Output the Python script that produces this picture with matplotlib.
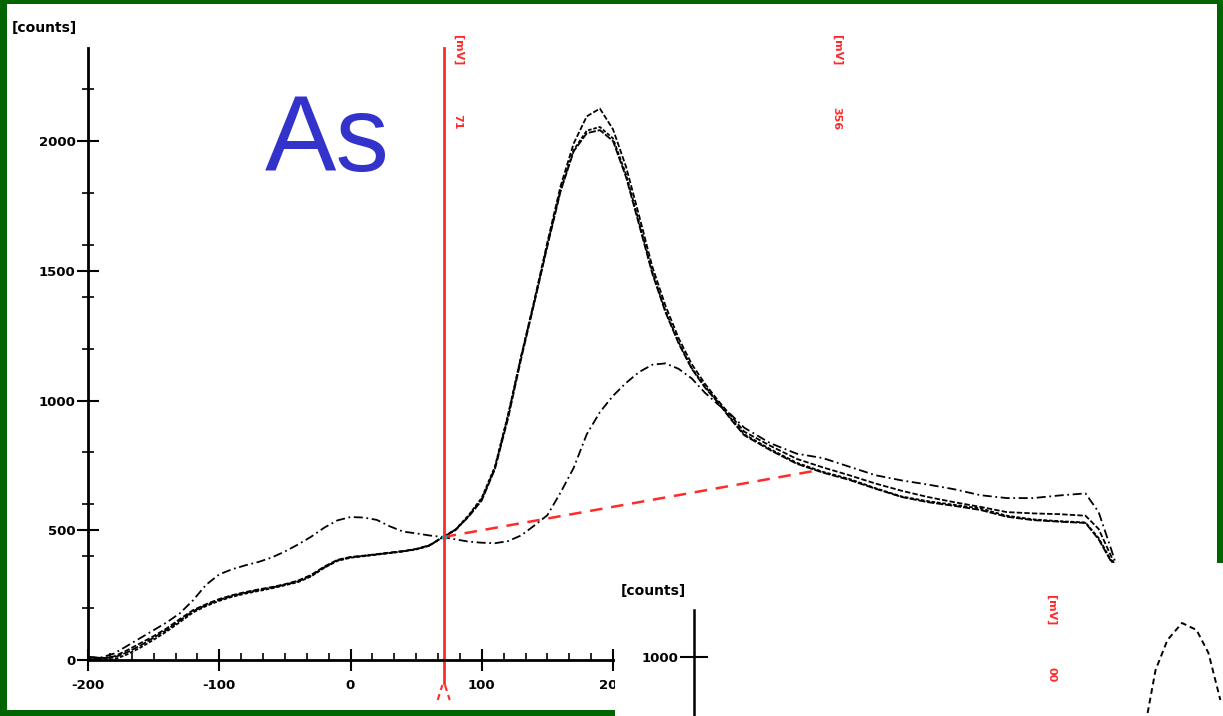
import matplotlib
matplotlib.use('Agg')
import matplotlib.pyplot as plt
from matplotlib.patches import Rectangle
from matplotlib.ticker import MultipleLocator, AutoMinorLocator
from matplotlib.transforms import blended_transform_factory

# picture size in pixels
W, H = 1223, 716
PX_PER_MV = 1.3125


def fx(px):
    return px / W


def fy(py):
    return 1 - py / H


# potential axis [mV]
potential_mv = [-200, -190, -180, -170, -160, -150, -140, -130, -120, -110,
                -100, -90, -80, -70, -60, -50, -40, -30, -20, -10,
                0, 10, 20, 30, 40, 50, 60, 70, 80, 90,
                100, 110, 120, 130, 140, 150, 160, 170, 180, 190,
                200, 210, 220, 230, 240, 250, 260, 270, 280, 290, 300,
                320, 340, 360, 380, 400, 420, 440, 460, 480, 500,
                520, 540, 560, 570, 580, 590, 600]

# scan with the low, late peak
scan_a = [10, 10, 25, 55, 85, 115, 145, 180, 230, 290,
          330, 350, 365, 378, 395, 418, 445, 475, 510, 538,
          551, 549, 540, 515, 495, 488, 480, 474, 465, 456,
          452, 450, 458, 480, 518, 558, 645, 740, 870, 955,
          1018, 1068, 1110, 1138, 1143, 1122, 1085, 1030, 985, 945, 895,
          835, 795, 778, 745, 712, 692, 676, 658, 635, 624,
          624, 634, 642, 570, 420, 260, 110]

# three scans with the big peak
scan_b = [10, 6, 14, 38, 65, 92, 122, 158, 192, 215,
          235, 250, 262, 272, 281, 292, 306, 328, 360, 386,
          397, 402, 408, 414, 420, 428, 442, 472, 500, 555,
          620, 740, 940, 1170, 1385, 1610, 1825, 1990, 2095, 2125,
          2045, 1900, 1710, 1515, 1365, 1240, 1140, 1065, 1000, 940, 880,
          825, 775, 742, 712, 680, 652, 628, 608, 590, 570,
          565, 562, 556, 505, 395, 250, 110]

scan_c = [8, 4, 2, 22, 48, 78, 110, 146, 183, 208,
          228, 244, 256, 266, 276, 288, 300, 322, 355, 382,
          394, 400, 406, 412, 418, 426, 440, 472, 503, 558,
          625, 745, 945, 1170, 1380, 1600, 1810, 1965, 2040, 2054,
          2010, 1870, 1685, 1495, 1345, 1225, 1125, 1055, 995, 930, 870,
          812, 760, 725, 698, 662, 630, 612, 598, 584, 556,
          542, 535, 530, 470, 380, 235, 95]

scan_d = [12, 8, 10, 30, 56, 86, 116, 152, 188, 212,
          232, 247, 259, 270, 279, 290, 303, 325, 357, 384,
          396, 401, 407, 413, 419, 427, 441, 473, 502, 552,
          615, 735, 930, 1160, 1375, 1595, 1805, 1960, 2030, 2042,
          2000, 1860, 1675, 1488, 1340, 1220, 1122, 1050, 992, 926, 866,
          808, 756, 722, 694, 660, 628, 608, 594, 578, 552,
          539, 533, 528, 465, 375, 230, 90]

# peak integration markers and baseline
marker_left = 71
marker_right = 356
marker_labels = ['71', '356']
baseline_mv = [71, 356]
baseline_counts = [474, 731]

x_ticks = [-200, -100, 0, 100, 200]
y_ticks = [0, 500, 1000, 1500, 2000]

# second (cut off) voltammogram in the corner
inset_mv = [93, 99, 108, 119, 130, 139, 148]
inset_counts = [776, 948, 1068, 1136, 1108, 1016, 828]
inset_marker = 8
inset_marker_label = '00'

GREEN = '#006400'
RED = '#ff2a2a'
BLUE = '#3333cc'

fig = plt.figure(figsize=(W / 100, H / 100), dpi=100, facecolor=GREEN)
# white slide area inside the green frame
fig.patches.append(Rectangle((fx(7), fy(710)), fx(1217) - fx(7), fy(4) - fy(710),
                             transform=fig.transFigure, facecolor='white',
                             edgecolor='none', zorder=-5))

ax = fig.add_axes([fx(88), fy(660), fx(W) - fx(88), fy(48) - fy(660)], zorder=1)
ax.set_facecolor('none')
ax.set_xlim(-200, -200 + (W - 88) / PX_PER_MV)
ax.set_ylim(0, (660 - 48) / 0.2595)

styles = [(0, (5, 2, 1, 2)), (0, (3, 1.2)), (0, (2, 1)), (0, (4, 1))]
for scan, ls in zip([scan_a, scan_b, scan_c, scan_d], styles):
    ax.plot(potential_mv, scan, color='black', lw=1.3, linestyle=ls)

ax.plot(baseline_mv, baseline_counts, color=RED, lw=1.8, linestyle=(0, (5, 3.5)))
ax.plot(marker_left, baseline_counts[0], marker='o', ms=3, color='#20b0b0')

# red marker line running below the axis, with the little caret at its foot
ax.axvline(marker_left, ymin=-23 / 612, ymax=1, color=RED, lw=2, clip_on=False)
blend = blended_transform_factory(ax.transData, ax.transAxes)
dx = 6 / PX_PER_MV
ax.plot([marker_left - dx, marker_left - 1], [-40 / 612, -25 / 612], color=RED,
        lw=1.5, linestyle=(0, (3, 2)), transform=blend, clip_on=False)
ax.plot([marker_left + 1, marker_left + dx], [-25 / 612, -40 / 612], color=RED,
        lw=1.5, linestyle=(0, (3, 2)), transform=blend, clip_on=False)

# rotated red labels of the markers
for m, lab, off in zip([marker_left, marker_right], marker_labels, [14, 19]):
    ax.annotate('[mV]', xy=(m, 1), xycoords=blend, xytext=(off, -2),
                textcoords='offset pixels', rotation=-90, color=RED,
                fontsize=8, fontweight='bold', ha='center', va='center',
                annotation_clip=False)
    ax.annotate(lab, xy=(m, 1), xycoords=blend, xytext=(off, -82),
                textcoords='offset pixels', rotation=-90, color=RED,
                fontsize=8, fontweight='bold', ha='center', va='bottom',
                annotation_clip=False)

for side in ['top', 'right']:
    ax.spines[side].set_visible(False)
for side in ['left', 'bottom']:
    ax.spines[side].set_linewidth(2)

ax.set_xticks(x_ticks)
ax.set_yticks(y_ticks)
ax.set_xticklabels([str(t) for t in x_ticks], fontweight='bold')
ax.set_yticklabels([str(t) for t in y_ticks], fontweight='bold')
ax.xaxis.set_minor_locator(AutoMinorLocator(6))
ax.yaxis.set_minor_locator(MultipleLocator(200))
ax.tick_params(which='major', direction='inout', length=16, width=1.5,
               labelsize=9.5, pad=6)
ax.tick_params(axis='y', which='major', pad=1)
ax.tick_params(which='minor', direction='in', length=5, width=1.2)
ax.tick_params(axis='y', which='minor', direction='inout', length=8)

fig.text(fx(12), fy(28), '[counts]', fontsize=10, fontweight='bold',
         ha='left', va='center')
fig.text(fx(327), fy(143), 'As', fontsize=77, color=BLUE,
         family='Liberation Sans', ha='center', va='center')

# white patch of the next slide picture covering the lower right corner
fig.patches.append(Rectangle((fx(615), 0), 1 - fx(615), fy(563),
                             transform=fig.transFigure, facecolor='white',
                             edgecolor='none', zorder=5))

ins = fig.add_axes([fx(694), fy(760), fx(1300) - fx(694), fy(610) - fy(760)],
                   zorder=10)
ins.set_facecolor('none')
ins.set_xlim(-250, -250 + (1300 - 694) / 1.3225)
ins.set_ylim(588, 1188)
ins.plot(inset_mv, inset_counts, color='black', lw=1.4, linestyle=(0, (3, 2)))
for side in ['top', 'right', 'bottom']:
    ins.spines[side].set_visible(False)
ins.spines['left'].set_linewidth(1.8)
ins.set_xticks([])
ins.set_yticks([1000])
ins.set_yticklabels(['1000'], fontweight='bold')
ins.tick_params(axis='y', direction='inout', length=20, width=1.5,
                labelsize=9.5, pad=1)
ins_blend = blended_transform_factory(ins.transData, ins.transAxes)
ins.text(inset_marker + 12, 1, '[mV]', transform=ins_blend,
         rotation=-90, color=RED, fontsize=8, fontweight='bold',
         ha='center', va='center', clip_on=False)
ins.text(inset_marker + 12, 1 - 65 / 150, inset_marker_label, transform=ins_blend,
         rotation=-90, color=RED, fontsize=8, fontweight='bold',
         ha='center', va='center', clip_on=False)
fig.text(fx(653), fy(591), '[counts]', fontsize=10, fontweight='bold',
         ha='center', va='center', zorder=11)

fig.savefig('out.png', dpi=100, facecolor=GREEN)
